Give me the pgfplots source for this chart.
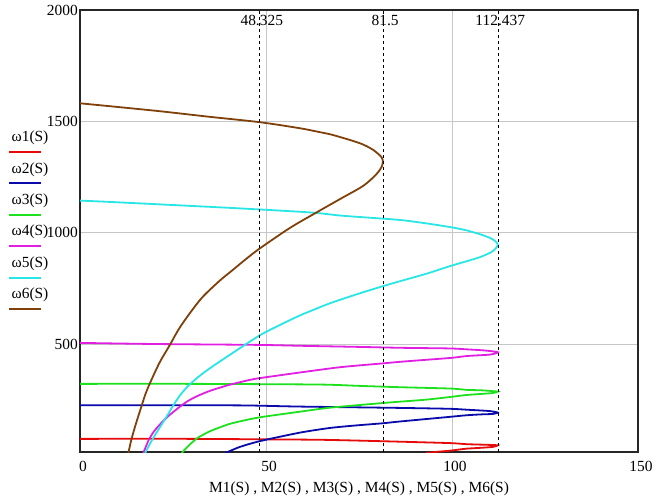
\documentclass[border=0pt]{standalone}
\usepackage{pgfplots}
\pgfplotsset{compat=1.18}
\usepackage{fontspec}
\setmainfont{Liberation Serif}
\definecolor{cA}{RGB}{230,10,10}
\definecolor{cB}{RGB}{10,10,170}
\definecolor{cC}{RGB}{30,225,30}
\definecolor{cD}{RGB}{225,30,225}
\definecolor{cE}{RGB}{40,230,230}
\definecolor{cF}{RGB}{128,64,10}
\newcommand{\ff}{\fontsize{15.5}{18}\selectfont}
\begin{document}
\begin{tikzpicture}
\path[use as bounding box] (-80bp,-49bp) rectangle (576bp,452bp);
\begin{axis}[
  at={(0,0)}, anchor=south west, scale only axis,
  width=558bp, height=442bp,
  xmin=0, xmax=150, ymin=15, ymax=2000,
  xtick={0,50,100,150}, ytick={500,1000,1500,2000},
  /pgf/number format/1000 sep={},
  /pgf/number format/assume math mode=true,
  major tick length=0pt,
  grid=major,
  major grid style={gray!45, line width=0.8bp},
  axis line style={black!85, line width=1.3bp},
  ticklabel style={font=\ff},
  xticklabel style={inner sep=0pt, anchor=north, yshift=-9bp, xshift=3bp},
  yticklabel style={inner sep=0pt, anchor=east, xshift=-2bp},
  xlabel={M1(S) , M2(S) , M3(S) , M4(S) , M5(S) , M6(S)},
  xlabel style={font=\ff, at={(axis description cs:0.5,0)}, anchor=center, yshift=-37bp, inner sep=0pt},
  every axis plot/.append style={line width=1.8bp},
]
% omega1
\addplot[cA, smooth, tension=0.3] coordinates {(0,74)(30,74)(64,70)(80,64)(99.5,55)(104,50)(110,47)(112.3,45)
 (111,38)(108,34)(103.9,30)(99.5,21)(96,16)(93,10)};
% omega2
\addplot[cB, smooth, tension=0.4] coordinates {(0,225)(30,225)(45,224)(59.1,219)(86,213)(99.5,209)(103.9,205)(110,199)(112.3,192)
 (111,186)(108,184)(103.9,180)(99.5,173)(86,152)(81.4,144)(74,134)(67.2,123)(59.1,102)(48.4,64)(43,38)(39,10)};
% omega3
\addplot[cC, smooth, tension=0.4] coordinates {(0,321)(30,321)(64,318)(75,312)(86,306)(99.5,300)(104,294)(108,292)(110.5,289)(112.3,286)
 (111,280)(108,276)(103.9,271)(99.5,262)(93,250)(86,241)(81.4,235)(67.2,214)(59.1,196)(48.4,171)(43.9,156)(40,140)(34.9,108)(31.5,77)(29.3,45)(27.3,10)};
% omega4
\addplot[cD, smooth, tension=0.4] coordinates {(0,505)(20,500)(48,496)(59.1,492)(75,487)(86,483)(99.5,480)(104,476)(108,472)(110.5,468)(112.3,463)
 (111.5,457)(110,452)(104,446)(100,438)(93,429)(86,420)(81.4,413)(70,396)(59.1,372)(48.4,347)(45.7,339)(40,316)(35,290)(31.5,266)(29,244)(26.9,219)(24,180)(22,148)(20,110)(18.5,70)(17,10)};
% omega5
\addplot[cE, smooth, tension=0.5] coordinates {(0,1144)(8.1,1138)(30,1120)(43,1109)(61.8,1091)(69.9,1077)(78,1067)(86,1057)(93,1042)(99.9,1024)(104,1010)(107.5,993)(110,978)(111.5,964)(112.3,948)
 (111.8,930)(110.5,912)(107.5,890)(104,872)(99.5,850)(93,815)(86,782)(81.5,760)(76.2,733)(72,710)(67.2,683)(63,655)(58.3,622)(49.3,548)(43.5,487)(37,415)(34,380)(31.5,348)(29,310)(27,272)(25.1,225)(23.5,180)(22,140)(20.5,100)(19,58)(17.5,10)};
% omega6
\addplot[cF, smooth, tension=0.5] coordinates {(0,1581)(20,1548)(35,1520)(48.4,1496)(59.1,1469)(64,1453)(67.2,1442)(70,1429)(73,1414)(75.5,1400)(77.1,1388)(78.8,1372)(80.3,1352)(81.1,1338)(81.4,1325)
 (81.2,1300)(79.8,1265)(76.2,1211)(69.9,1151)(63.6,1091)(56.5,1022)(48.4,930)(44.8,884)(40.3,822)(37.6,785)(33,712)(29.6,640)(26.6,568)(24.2,497)(21.5,420)(19.2,339)(17.7,280)(16.5,219)(15,140)(13.8,70)(13.0,10)};
% markers
\addplot[black, line width=1.1bp, dash pattern=on 3bp off 3bp] coordinates {(48.325,15)(48.325,2000)};
\addplot[black, line width=1.1bp, dash pattern=on 3bp off 3bp] coordinates {(81.5,15)(81.5,2000)};
\addplot[black, line width=1.1bp, dash pattern=on 3bp off 3bp] coordinates {(112.437,15)(112.437,2000)};
\node[font=\ff, anchor=north, inner sep=0pt, yshift=-5bp, xshift=2bp] at (axis cs:48.325,2000) {48.325};
\node[font=\ff, anchor=north, inner sep=0pt, yshift=-5bp, xshift=2bp] at (axis cs:81.5,2000) {81.5};
\node[font=\ff, anchor=north, inner sep=0pt, yshift=-5bp, xshift=2bp] at (axis cs:112.437,2000) {112.437};
\end{axis}
% legend
\foreach \i/\c [count=\k from 0] in {1/cA,2/cB,3/cC,4/cD,5/cE,6/cF}{
  \node[font=\ff, inner sep=0pt] at (-50bp,{314bp-\k*31.4bp}) {ω\i(S)};
  \draw[\c, line width=2bp] (-71bp,{300bp-\k*31.4bp}) -- (-39bp,{300bp-\k*31.4bp});
}
\end{tikzpicture}
\end{document}
